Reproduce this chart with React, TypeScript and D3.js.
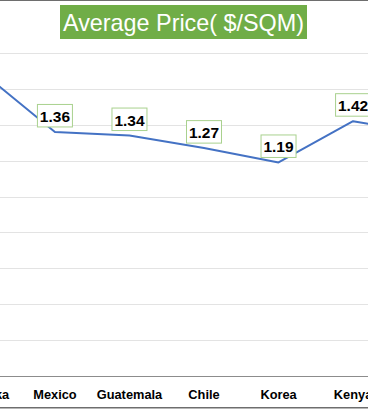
import React from "react";
import * as d3 from "d3";

const categories = ["Sri Lanka", "Mexico", "Guatemala", "Chile", "Korea", "Kenya", "Peru"];
const prices = [1.7, 1.36, 1.34, 1.27, 1.19, 1.42, 1.35];
const yTicks = [0, 0.2, 0.4, 0.6, 0.8, 1.0, 1.2, 1.4, 1.6, 1.8];
const title = "Average Price( $/SQM)";

const W = 368;
const H = 409;

export default function App() {
  const x = d3.scalePoint<string>().domain(categories).range([-19.6, 427.6]);
  const y = d3.scaleLinear().domain([0, 1.8]).range([376, 53]);
  const pts = categories.map((c, i) => ({ c, v: prices[i], x: x(c)!, y: y(prices[i]) }));
  const line = d3
    .line<{ x: number; y: number }>()
    .x((d) => d.x)
    .y((d) => d.y);

  const boxW = 35;
  const boxH = 22.5;
  const gap = 5;

  return (
    <svg
      width={W}
      height={H}
      style={{ position: "absolute", left: 0, top: 0, background: "#fff" }}
      fontFamily="'Liberation Sans', Arial, sans-serif"
    >
      <rect x={0} y={0} width={W} height={H} fill="#fff" />
      {/* gridlines */}
      {yTicks.slice(1).map((t) => (
        <line
          key={t}
          x1={0}
          x2={W}
          y1={Math.round(y(t)) + 0.5}
          y2={Math.round(y(t)) + 0.5}
          stroke="#e3e3e3"
          strokeWidth={1.2}
        />
      ))}
      {/* axis line */}
      <line x1={0} x2={W} y1={376.5} y2={376.5} stroke="#8c8c8c" strokeWidth={1.2} />
      {/* chart borders (top/bottom) */}
      <line x1={0} x2={W} y1={0.5} y2={0.5} stroke="#6e6e6e" strokeWidth={1.2} />
      <line x1={0} x2={W} y1={407.7} y2={407.7} stroke="#6e6e6e" strokeWidth={1.4} />

      {/* title */}
      <rect x={60} y={5} width={247} height={34} fill="#70AD47" />
      <text
        x={183.5}
        y={31}
        textAnchor="middle"
        fill="#fff"
        fontSize={24}
        textLength={241}
        lengthAdjust="spacingAndGlyphs"
      >
        {title}
      </text>

      {/* line */}
      <path
        d={line(pts) || ""}
        fill="none"
        stroke="#4472C4"
        strokeWidth={2}
        strokeLinejoin="round"
        strokeLinecap="round"
      />

      {/* data labels */}
      {pts.map((p) => (
        <g key={p.c}>
          <rect
            x={p.x - boxW / 2}
            y={p.y - gap - boxH}
            width={boxW}
            height={boxH}
            fill="#fff"
            stroke="#a9d18e"
            strokeWidth={1}
          />
          <text
            x={p.x}
            y={p.y - gap - boxH + 17.5}
            textAnchor="middle"
            fontSize={15.5}
            fontWeight="bold"
            fill="#000"
          >
            {p.v.toFixed(2)}
          </text>
        </g>
      ))}

      {/* category labels */}
      {pts.map((p) => (
        <text
          key={"c" + p.c}
          x={p.x}
          y={398.5}
          textAnchor="middle"
          fontSize={12.8}
          fontWeight="bold"
          fill="#000"
        >
          {p.c}
        </text>
      ))}
    </svg>
  );
}
